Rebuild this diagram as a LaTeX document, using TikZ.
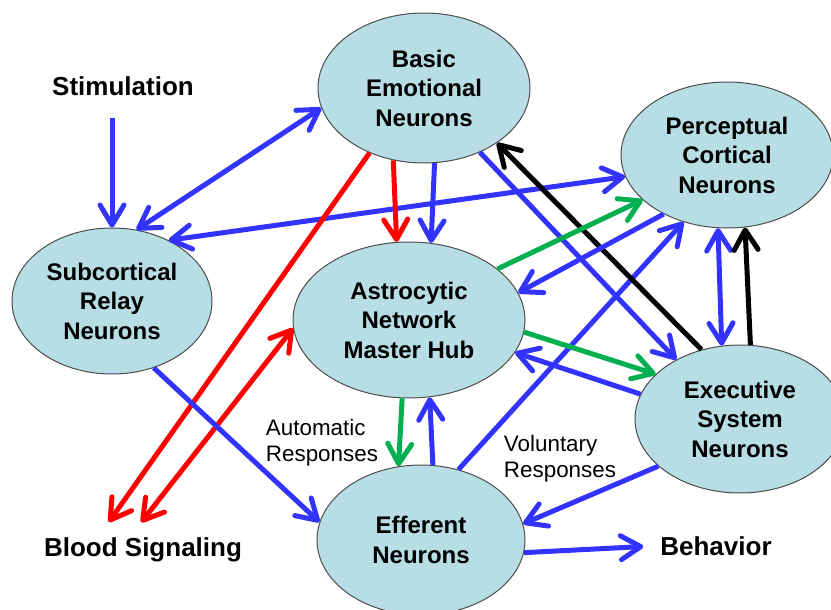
\documentclass[tikz,border=0pt]{standalone}
\usepackage{fontspec}
\setmainfont{Liberation Sans}
\usetikzlibrary{arrows.meta, shapes.geometric}
\definecolor{cellfill}{RGB}{183,222,228}
\definecolor{linkblue}{RGB}{51,51,255}
\definecolor{linkred}{RGB}{255,0,0}
\definecolor{linkgreen}{RGB}{0,176,80}

\begin{document}
\begin{tikzpicture}[x=0.5pt,y=-0.5pt,
  >={Straight Barb[length=10pt,width=12pt,round]},
  hub/.style={ellipse,draw=black!70,fill=cellfill,line width=0.5pt,inner sep=0pt,align=center,font=\fontsize{12}{14.75}\selectfont\bfseries},
  tag/.style={font=\fontsize{13}{15}\selectfont\bfseries},
  note/.style={align=left,font=\fontsize{11.2}{13}\selectfont},
  link/.style={line width=2.5pt}]
\useasboundingbox (0,0) rectangle (831,610);
\node[hub,minimum width=106pt,minimum height=75pt] (basic) at (424,88) {Basic\\Emotional\\Neurons};
\node[hub,minimum width=106pt,minimum height=73pt] (percep) at (727,155) {Perceptual\\Cortical\\Neurons};
\node[hub,minimum width=100pt,minimum height=73pt] (subc) at (112,301) {Subcortical\\Relay\\Neurons};
\node[hub,minimum width=116pt,minimum height=78pt] (astro) at (409,320) {Astrocytic\\Network\\Master Hub};
\node[hub,minimum width=105pt,minimum height=74pt] (exec) at (740,419) {Executive\\System\\Neurons};
\node[hub,minimum width=104pt,minimum height=75pt] (effer) at (421,540) {Efferent\\Neurons};
\node[tag] (stim) at (123,86) {Stimulation};
\node[tag] (blood) at (143,549.5) {Blood Signaling};
\node[tag] (behav) at (716,546) {Behavior};
\node[note] (auto) at (322,443) {Automatic\\Responses};
\node[note] (vol) at (560,459) {Voluntary\\Responses};
\draw[link,linkblue,->,shorten <=7.5pt] (stim.south -| subc.north) -- (subc.north);
\draw[link,linkblue,<->] (subc.71) -- (basic.191);
\draw[link,linkblue,<->] (subc.47) -- (percep.192);
\draw[link,linkred,->] (basic.247) -- (astro.99);
\draw[link,linkblue,->] (basic.278) -- (astro.74);
\draw[link,linkred,->,shorten >=5pt] (basic.230) -- ([xshift=-20pt]blood.north);
\draw[link,linkred,<->,shorten <=5pt] ([xshift=-4pt]blood.north) -- (astro.184);
\draw[link,linkblue,->] (subc.302) -- (effer.170);
\draw[link,linkgreen,->] (astro.265) -- (effer.107);
\draw[link,linkblue,->] (effer.81) -- (astro.285);
\draw[link,linkblue,->] (effer.62) -- (percep.237);
\draw[link,linkblue,->] (exec.210) -- (effer.9);
\draw[link,linkblue,->,shorten >=5pt] (effer.353) -- (behav.west);
\draw[link,linkblue,->] (basic.311) -- (exec.137);
\draw[link,black,->] (exec.119) -- (basic.323);
\draw[link,linkgreen,->] (astro.30) -- (percep.208);
\draw[link,linkblue,->] (percep.223) -- (astro.14);
\draw[link,linkgreen,->] (astro.354) -- (exec.152);
\draw[link,linkblue,->] (exec.166) -- (astro.343);
\draw[link,linkblue,<->] (percep.263) -- (exec.104);
\draw[link,black,->] (exec.82) -- (percep.284);
\end{tikzpicture}
\end{document}
